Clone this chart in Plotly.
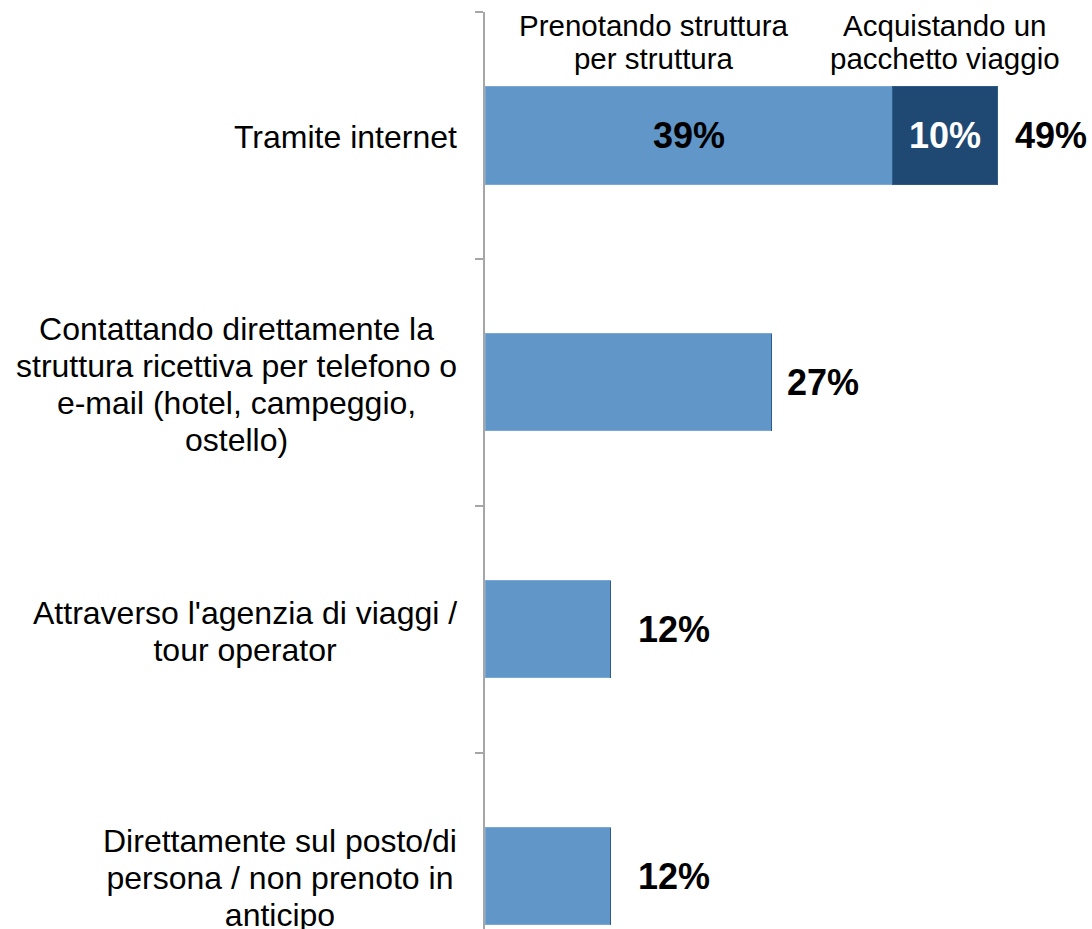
import plotly.graph_objects as go

# ---- data ----
categories = [
    "Tramite internet",
    "Contattando direttamente la<br>struttura ricettiva per telefono o<br>e-mail (hotel, campeggio,<br>ostello)",
    "Attraverso l'agenzia di viaggi /<br>tour operator",
    "Direttamente sul posto/di<br>persona / non prenoto in<br>anticipo",
]
series_struttura = [39, 27.4, 12, 12]      # Prenotando struttura per struttura
series_pacchetto = [10, 0, 0, 0]           # Acquistando un pacchetto viaggio
totals_labels = ["49%", "27%", "12%", "12%"]
inner_labels_struttura = ["39%", None, None, None]
inner_labels_pacchetto = ["10%", None, None, None]
series_names = ["Prenotando struttura<br>per struttura", "Acquistando un<br>pacchetto viaggio"]

LIGHT = "#6096C8"
DARK = "#1F4973"
FONT = "Arial, Liberation Sans, sans-serif"

ypos = list(range(len(categories)))

fig = go.Figure()
fig.add_trace(go.Bar(
    y=ypos, x=series_struttura, orientation="h", name="s1",
    marker=dict(color=LIGHT, line=dict(color="#7AA9D8", width=1)),
    showlegend=False, hoverinfo="skip",
))
fig.add_trace(go.Bar(
    y=ypos, x=series_pacchetto, orientation="h", name="s2",
    marker=dict(color=DARK, line=dict(color="#2E5C8A", width=1)),
    showlegend=False, hoverinfo="skip",
))

ann = []
# category labels
for i, c in enumerate(categories):
    txt = "<br>".join(f'<span style="font-size:32px">{ln}</span>' for ln in c.split("<br>"))
    ann.append(dict(x=0, y=i, xref="x", yref="y", text=txt, showarrow=False,
                    xanchor="right", yanchor="middle", align="center", xshift=-26, yshift=-2,
                    font=dict(family=FONT, size=28.5, color="black")))

# inner labels
for i in range(len(categories)):
    if inner_labels_struttura[i]:
        ann.append(dict(x=series_struttura[i] / 2, y=i, xref="x", yref="y",
                        text=f"<b>{inner_labels_struttura[i]}</b>", showarrow=False,
                        font=dict(family=FONT, size=36, color="black")))
    if inner_labels_pacchetto[i]:
        ann.append(dict(x=series_struttura[i] + series_pacchetto[i] / 2, y=i, xref="x", yref="y",
                        text=f"<b>{inner_labels_pacchetto[i]}</b>", showarrow=False,
                        font=dict(family=FONT, size=36, color="white")))

# total labels
shifts = [16, 14, 26, 26]
for i in range(len(categories)):
    tot = series_struttura[i] + series_pacchetto[i]
    ann.append(dict(x=tot, y=i, xref="x", yref="y", text=f"<b>{totals_labels[i]}</b>",
                    showarrow=False, xanchor="left", yanchor="middle", xshift=shifts[i],
                    font=dict(family=FONT, size=36, color="black")))

# series headers
hdr_x = [16.2, series_struttura[0] + series_pacchetto[0] / 2]
for name, hx in zip(series_names, hdr_x):
    txt = "<br>".join(f'<span style="font-size:29.5px">{ln}</span>' for ln in name.split("<br>"))
    ann.append(dict(x=hx, y=-0.378, xref="x", yref="y", text=txt, showarrow=False,
                    xanchor="center", yanchor="middle", align="center",
                    font=dict(family=FONT, size=25.5, color="black")))

fig.update_layout(
    width=1092, height=929,
    margin=dict(l=485, r=0, t=12, b=0, pad=0),
    barmode="stack", bargap=0.607,
    plot_bgcolor="white", paper_bgcolor="white",
    annotations=ann,
    xaxis=dict(range=[0, 58.06], visible=False, fixedrange=True),
    yaxis=dict(range=[3.213, -0.5], tickvals=[-0.5, 0.5, 1.5, 2.5],
               ticktext=["", "", "", ""], ticks="outside", ticklen=8, tickwidth=2,
               tickcolor="#A6A6A6", showline=True, linecolor="#A6A6A6", linewidth=2,
               showgrid=False, zeroline=False, fixedrange=True),
)

fig.write_html("out.html", config={"displayModeBar": False},
               post_script="document.body.style.margin='0';")
